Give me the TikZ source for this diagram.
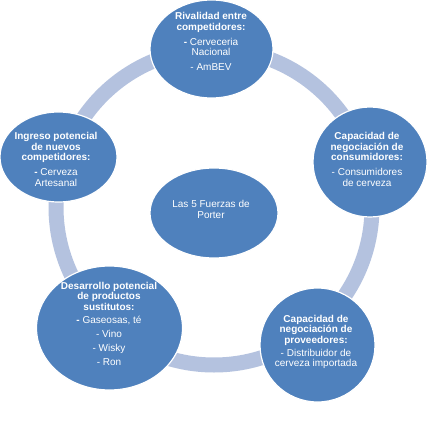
\documentclass[tikz,border=0pt]{standalone}
\usepackage{fontspec}
\setmainfont{Liberation Sans}
\definecolor{nodeblue}{RGB}{79,129,189}
\definecolor{ringblue}{RGB}{180,194,223}
\begin{document}
\begin{tikzpicture}[x=1pt,y=-1pt]
\tikzset{
  force/.style={draw=white,line width=1.2pt,fill=nodeblue},
  lbl/.style={text=white,align=center,font=\fontsize{10}{10.5}\selectfont,inner sep=0pt},
}
\useasboundingbox (0,0) rectangle (426,427);
\fill[white] (0,0) rectangle (426,427);
% ring
\coordinate (ringc) at (214,207);
\draw[ringblue,line width=15pt] (ringc) circle[radius=158];
% ellipses
\path[force] (211.5,49) ellipse[x radius=61.5,y radius=49];
\path[force] (370,162) ellipse[x radius=57,y radius=55];
\path[force] (58.5,157) ellipse[x radius=58.5,y radius=45];
\path[force] (109.5,328) ellipse[x radius=73,y radius=62];
\path[force] (317.5,345) ellipse[x radius=57.5,y radius=57];
\path[force] (214,213) ellipse[x radius=64,y radius=45];
% labels
\node[lbl] (top) at (211,41.5) {\textbf{Rivalidad entre}\\\textbf{competidores:}\\[4.5pt]\textbf{-} Cerveceria\\Nacional\\[4.5pt]- AmBEV};
\node[lbl] (right) at (367,159.5) {\textbf{Capacidad de}\\\textbf{negociación de}\\\textbf{consumidores:}\\[4.5pt]- Consumidores\\de cerveza};
\node[lbl] (left) at (56,159.5) {\textbf{Ingreso potencial}\\\textbf{de nuevos}\\\textbf{competidores:}\\[4.5pt]\textbf{-} Cerveza\\Artesanal};
\node[lbl] (bl) at (109,324) {\textbf{Desarrollo potencial}\\\textbf{de productos}\\\textbf{sustitutos:}\\[3pt]\textbf{-} Gaseosas, té\\[3.5pt]- Vino\\[3.5pt]- Wisky\\[3.5pt]- Ron};
\node[lbl] (br) at (316,342) {\textbf{Capacidad de}\\\textbf{negociación de}\\\textbf{proveedores:}\\[2.5pt]- Distribuidor de\\cerveza importada};
\node[lbl] (center) at (211,209.5) {Las 5 Fuerzas de\\Porter};
\end{tikzpicture}
\end{document}
